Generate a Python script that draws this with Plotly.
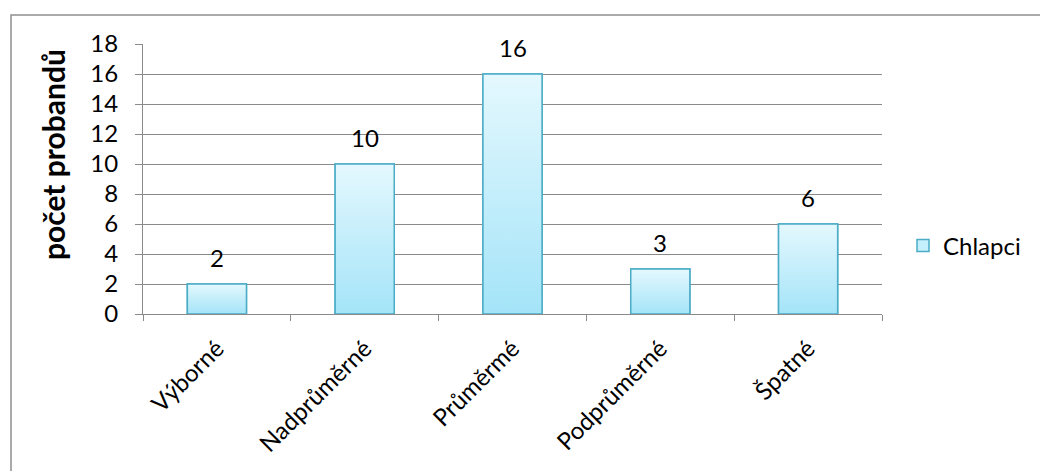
import plotly.graph_objects as go

# Hodnocení a počty probandů
categories = ["Výborné", "Nadprůměrné", "Průměrmé", "Podprůměrné", "Špatné"]
chlapci = [2, 10, 16, 3, 6]
y_ticks = [0, 2, 4, 6, 8, 10, 12, 14, 16, 18]

FONT = "Lato"
GRID = "#8a8a8a"
EDGE = "#4bacc6"
TOP = "#e4f8fe"
BOTTOM = "#a4e4f8"
BAR_W = 0.4
FS = 24

# plot area in pixels (for placing annotations/frame in paper units)
W, H = 1040, 471
L, R, T, B = 143, 158, 44, 157
PW, PH = W - L - R, H - T - B


def px_x(px):
    return (px - L) / PW


def px_y(py):
    return (H - B - py) / PH


idx = list(range(len(categories)))

fig = go.Figure()

# base bar trace (also provides the legend entry)
fig.add_trace(go.Bar(
    x=idx, y=chlapci, width=BAR_W, name="Chlapci",
    marker=dict(color="#c4effc", line=dict(color=EDGE, width=1.5)),
    hoverinfo="skip",
))

# gradient fill on top of each bar
for i, v in zip(idx, chlapci):
    x0, x1 = i - BAR_W / 2, i + BAR_W / 2
    fig.add_trace(go.Scatter(
        x=[x0, x1, x1, x0, x0], y=[0, 0, v, v, 0],
        mode="lines", fill="toself",
        fillgradient=dict(type="vertical", colorscale=[[0, BOTTOM], [1, TOP]]),
        line=dict(color=EDGE, width=1.5),
        showlegend=False, hoverinfo="skip",
    ))

# value labels above bars
annotations = [
    dict(x=i, y=v, xref="x", yref="y", text=str(v), showarrow=False,
         yanchor="middle", yshift=27, font=dict(family=FONT, size=FS, color="black"))
    for i, v in zip(idx, chlapci)
]

# y-axis title
annotations.append(dict(
    x=px_x(53), y=px_y(155), xref="paper", yref="paper",
    text="<b>počet probandů</b>", textangle=-90, showarrow=False,
    xanchor="center", yanchor="middle",
    font=dict(family=FONT, size=30, color="black"),
))

fig.update_layout(
    width=W, height=H,
    margin=dict(l=L, r=R, t=T, b=B, pad=0),
    paper_bgcolor="white", plot_bgcolor="white",
    font=dict(family=FONT, size=FS, color="black"),
    barmode="overlay",
    showlegend=True,
    legend=dict(x=px_x(903), y=px_y(246), xanchor="left", yanchor="middle",
                font=dict(family=FONT, size=FS, color="black"),
                bgcolor="rgba(0,0,0,0)"),
    annotations=annotations,
    shapes=[dict(type="rect", xref="paper", yref="paper",
                 x0=px_x(11), x1=px_x(1050), y0=px_y(480), y1=px_y(15),
                 line=dict(color="#8e8e8e", width=1.5), layer="below")],
)

fig.update_xaxes(
    range=[-0.5, 4.5], tickmode="array", tickvals=idx, ticktext=categories,
    tickangle=-45, ticks="", showgrid=False, zeroline=False,
    showline=True, linecolor=GRID, linewidth=1,
    minor=dict(tickmode="linear", tick0=-0.5, dtick=1, ticks="outside",
               ticklen=6, tickcolor=GRID, showgrid=False),
    ticklabelstandoff=10,
    tickfont=dict(family=FONT, size=FS, color="black"),
    fixedrange=True,
)
fig.update_yaxes(
    range=[0, 18], tickmode="array", tickvals=y_ticks,
    showgrid=True, gridcolor=GRID, gridwidth=1, zeroline=False,
    showline=True, linecolor=GRID, linewidth=1,
    ticks="outside", ticklen=7, tickcolor=GRID,
    ticklabelstandoff=12,
    tickfont=dict(family=FONT, size=FS, color="black"),
    fixedrange=True,
)

fig.write_html("out.html")
